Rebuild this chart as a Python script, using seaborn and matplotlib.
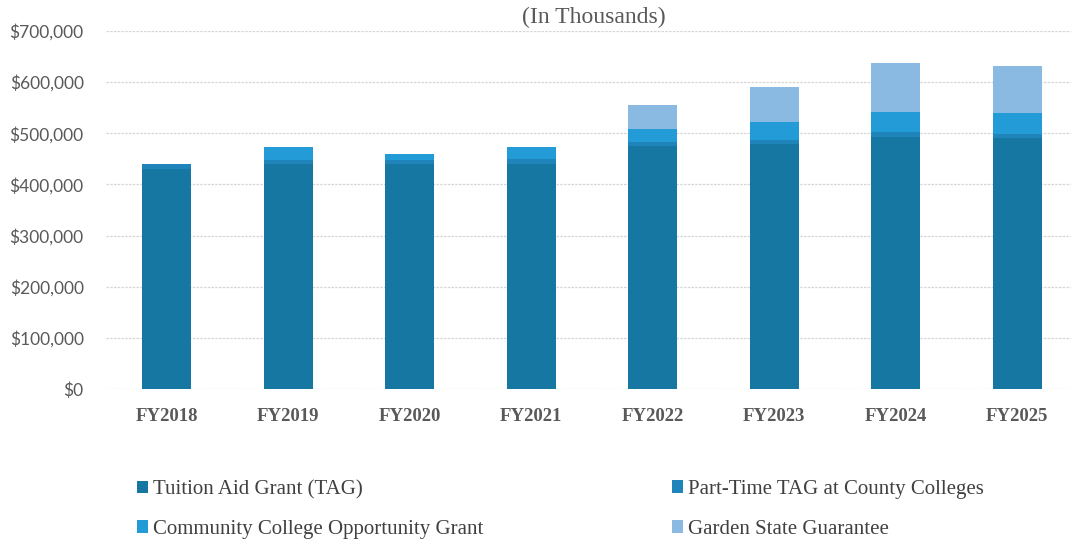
import matplotlib
matplotlib.use("Agg")
import matplotlib.pyplot as plt
from matplotlib.patches import Patch
from matplotlib.ticker import FuncFormatter
import seaborn as sns
import pandas as pd
import numpy as np

years = ["FY2018", "FY2019", "FY2020", "FY2021", "FY2022", "FY2023", "FY2024", "FY2025"]
tag = [430000, 440000, 440000, 440000, 475000, 480000, 493500, 490000]
pt_tag = [9400, 8000, 8000, 9000, 8000, 7000, 8500, 8600]
ccog = [0, 26000, 11000, 23500, 26000, 36000, 40000, 41000]
gsg = [0, 0, 0, 0, 46000, 68000, 96000, 92600]

series_names = ["Tuition Aid Grant (TAG)", "Part-Time TAG at County Colleges",
                "Community College Opportunity Grant", "Garden State Guarantee"]
series_vals = [tag, pt_tag, ccog, gsg]
colors = ["#1677a3", "#1f84b9", "#239bd6", "#8abae2"]

sns.set_theme(style="white")
plt.rcParams["font.family"] = ["Liberation Serif", "DejaVu Serif"]

fig = plt.figure(figsize=(10.71, 5.40), dpi=100)
ax = fig.add_axes([106 / 1071, 151 / 540, 972 / 1071, 358 / 540])

cum = np.cumsum(np.array(series_vals, dtype=float), axis=0)
# draw from top layer down so each cumulative bar overlays the one above
for i in range(len(series_vals) - 1, -1, -1):
    df = pd.DataFrame({"year": years, "value": cum[i]})
    sns.barplot(data=df, x="year", y="value", color=colors[i], width=0.4,
                saturation=1, linewidth=0, ax=ax, zorder=3)

ax.set_xlim(-0.5, 7.5)
ax.set_ylim(0, 700000)
ax.set_yticks(np.arange(0, 700001, 100000))
ax.yaxis.set_major_formatter(FuncFormatter(lambda v, p: f"${v:,.0f}"))
ax.grid(axis="y", color="#d6d6d6", linestyle=(0, (2, 1)), linewidth=0.9, zorder=0)
ax.grid(axis="x", visible=False)
for s in ax.spines.values():
    s.set_visible(False)
ax.set_xlabel("")
ax.set_ylabel("")
ax.tick_params(axis="both", length=0)
ax.tick_params(axis="y", pad=16)
ax.tick_params(axis="x", pad=14)
for lab in ax.get_yticklabels():
    lab.set_fontfamily(["Lato", "DejaVu Sans"])
    lab.set_fontsize(12.5)
    lab.set_color("#595959")
for lab in ax.get_xticklabels():
    lab.set_fontfamily(["Liberation Serif", "DejaVu Serif"])
    lab.set_fontsize(13.5)
    lab.set_fontweight("bold")
    lab.set_color("#595959")

fig.text(594 / 1071, 1 - 17 / 540, "(In Thousands)", ha="center", va="center",
         fontsize=17, color="#595959")

handles = [Patch(facecolor=c, edgecolor="none") for c in colors]
leg_kw = dict(frameon=False, fontsize=15, handlelength=0.55, handleheight=0.55,
              handletextpad=0.2, labelspacing=1.0, borderpad=0, borderaxespad=0,
              loc="upper left", labelcolor="#404040")
leg1 = fig.legend([handles[0], handles[2]], [series_names[0], series_names[2]],
                  bbox_to_anchor=(137 / 1071, 1 - 480 / 540), **leg_kw)
leg2 = fig.legend([handles[1], handles[3]], [series_names[1], series_names[3]],
                  bbox_to_anchor=(672 / 1071, 1 - 480 / 540), **leg_kw)

fig.savefig("out.png", dpi=100)
